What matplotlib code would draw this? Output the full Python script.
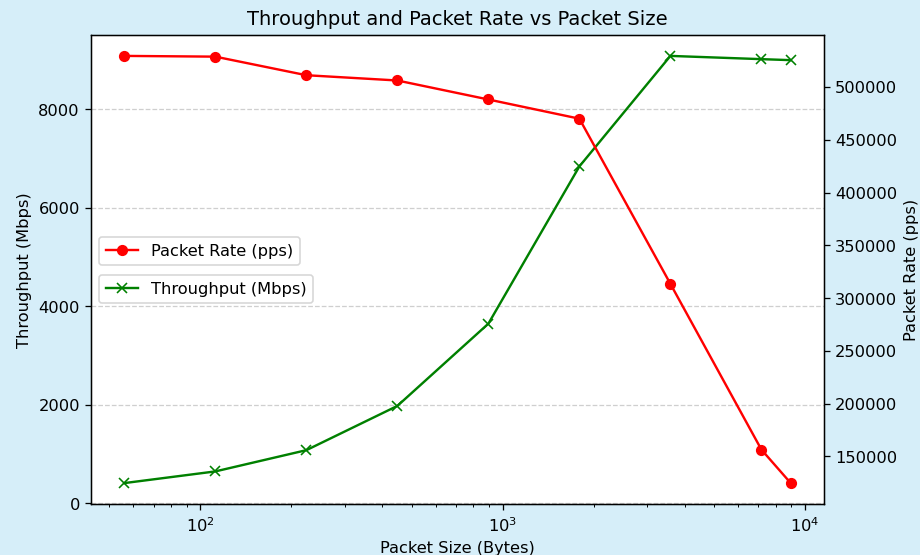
import matplotlib
matplotlib.use("Agg")
import matplotlib.pyplot as plt

# packet sizes in bytes (doubling sweep, plus jumbo frame)
packet_sizes = [56, 112, 224, 448, 896, 1792, 3584, 7168, 8960]
throughput_mbps = [411, 648, 1079, 1977, 3646, 6837, 9079, 9013, 8993]
packet_rate_pps = [529500, 528800, 511200, 506200, 488200, 470000, 313500, 156400, 124700]

BG = "#d6eef9"

plt.rcParams["font.size"] = 10.2


def main():
    fig, ax1 = plt.subplots(figsize=(8, 4.83), dpi=115)
    fig.patch.set_facecolor(BG)
    fig.subplots_adjust(left=0.0989, right=0.8957, bottom=0.091, top=0.937)

    ax1.plot(packet_sizes, throughput_mbps, color="g", marker="x",
             label="Throughput (Mbps)")
    ax1.set_xscale("log")
    ax1.set_xlabel("Packet Size (Bytes)")
    ax1.set_ylabel("Throughput (Mbps)")
    ax1.grid(True, axis="y", linestyle="--", alpha=0.6)

    ax2 = ax1.twinx()
    ax2.plot(packet_sizes, packet_rate_pps, color="r", marker="o",
             label="Packet Rate (pps)")
    ax2.set_ylabel("Packet Rate (pps)")

    ax2.legend(loc="center left", bbox_to_anchor=(0, 0.539))
    ax1.legend(loc="center left", bbox_to_anchor=(0, 0.4587))

    ax1.set_title("Throughput and Packet Rate vs Packet Size")
    fig.savefig("out.png", dpi=115, facecolor=fig.get_facecolor())
    plt.close(fig)


if __name__ == "__main__":
    main()
